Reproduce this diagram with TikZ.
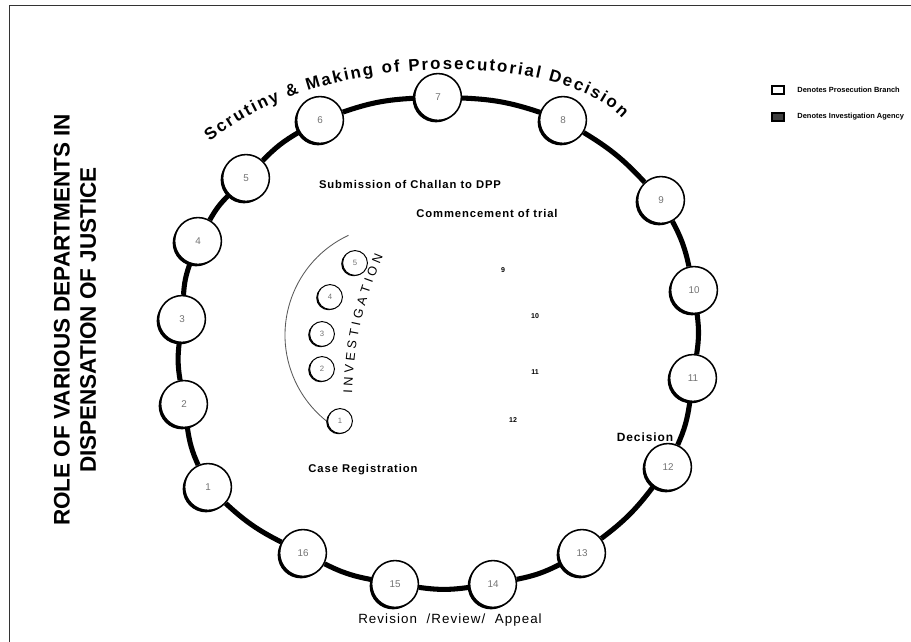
\documentclass[tikz,border=0pt]{standalone}
\usepackage{fontspec}
\setmainfont{Liberation Sans}
\newfontfamily\widesans[LetterSpace=8]{Liberation Sans}
\usepackage{tikz}
\usetikzlibrary{shapes,arrows,positioning,shadows,decorations.text}

\begin{document}
\begin{tikzpicture}[x=0.025cm, y=0.025cm]
  % Styles for the stages of the cycle
  \tikzstyle{ringstage} = [circle, draw=black, line width=1.1pt, fill=white, minimum size=1.17cm, inner sep=0pt, drop shadow={shadow xshift=-1.4pt, shadow yshift=-1.4pt, opacity=1, fill=black}, font=\fontsize{7}{8}\selectfont, text=black!55]
  \tikzstyle{invstage} = [circle, draw=black, line width=0.7pt, fill=white, minimum size=0.62cm, inner sep=0pt, drop shadow={shadow xshift=-1pt, shadow yshift=-0.6pt, opacity=1, fill=black}, font=\fontsize{5.5}{6}\selectfont, text=black!55]
  \tikzstyle{ringlink} = [line width=3.6pt, color=black]
  \tikzstyle{invarc} = [line width=0.6pt, color=black!65]
  \tikzstyle{stagetext} = [font=\widesans\bfseries\fontsize{8}{9.5}\selectfont]
  \tikzstyle{trialno} = [font=\bfseries\fontsize{5}{6}\selectfont]
  \tikzstyle{legendbox} = [rectangle, draw=black, line width=0.8pt, minimum width=0.3cm, minimum height=0.2cm, inner sep=0pt]
  \tikzstyle{legendtext} = [font=\bfseries\fontsize{5.3}{6}\selectfont, inner sep=1pt]

  \useasboundingbox (0,0) rectangle (911,642);

  % Frame
  \coordinate (frameBL) at (9,0);
  \coordinate (frameTL) at (9,637);
  \coordinate (frameTR) at (911,637);
  \draw[line width=0.6pt, black!80] (frameBL) -- (frameTL) -- (frameTR);

  % Title
  \node[rotate=90, align=center, font=\bfseries\fontsize{16}{18.5}\selectfont] (title) at (75,322) {ROLE OF VARIOUS DEPARTMENTS IN\\DISPENSATION OF JUSTICE};

  % Legend
  \node[legendbox, fill=white] (boxPros) at (778,552) {};
  \node[legendbox, fill=black!75] (boxInv) at (778,525) {};
  \node[legendtext, right=0.28cm of boxPros] (legPros) {Denotes Prosecution Branch};
  \node[legendtext, right=0.28cm of boxInv] (legInv) {Denotes Investigation Agency};

  % Outer ring of stages
  \node[ringstage] (s1) at (208,155) {1};
  \node[ringstage] (s2) at (184,238) {2};
  \node[ringstage] (s3) at (182,323) {3};
  \node[ringstage] (s4) at (198,401) {4};
  \node[ringstage] (s5) at (246,464) {5};
  \node[ringstage] (s6) at (320,522) {6};
  \node[ringstage] (s7) at (438,545) {7};
  \node[ringstage] (s8) at (563,522) {8};
  \node[ringstage] (s9) at (661,442) {9};
  \node[ringstage] (s10) at (694,352) {10};
  \node[ringstage] (s11) at (693,264) {11};
  \node[ringstage] (s12) at (668,175) {12};
  \node[ringstage] (s13) at (582,89) {13};
  \node[ringstage] (s14) at (493,58) {14};
  \node[ringstage] (s15) at (395,58) {15};
  \node[ringstage] (s16) at (303,89) {16};

  \draw[ringlink] (s1) to[bend left=8] (s2);
  \draw[ringlink] (s2) to[bend left=8] (s3);
  \draw[ringlink] (s3) to[bend left=8] (s4);
  \draw[ringlink] (s4) to[bend left=8] (s5);
  \draw[ringlink] (s5) to[bend left=8] (s6);
  \draw[ringlink] (s6) to[bend left=8] (s7);
  \draw[ringlink] (s7) to[bend left=8] (s8);
  \draw[ringlink] (s8) to[bend left=8] (s9);
  \draw[ringlink] (s9) to[bend left=8] (s10);
  \draw[ringlink] (s10) to[bend left=8] (s11);
  \draw[ringlink] (s11) to[bend left=8] (s12);
  \draw[ringlink] (s12) to[bend left=8] (s13);
  \draw[ringlink] (s13) to[bend left=8] (s14);
  \draw[ringlink] (s14) to[bend left=8] (s15);
  \draw[ringlink] (s15) to[bend left=8] (s16);
  \draw[ringlink] (s16) to[bend left=8] (s1);

  % Investigation stages
  \coordinate (invc) at (395,307);
  \draw[invarc] ([shift={(115:110)}]invc) arc[start angle=115, end angle=234, radius=110];
  \node[invstage] (i1) at (340,221) {1};
  \node[invstage] (i2) at (322,273) {2};
  \node[invstage] (i3) at (322,308) {3};
  \node[invstage] (i4) at (330,345) {4};
  \node[invstage] (i5) at (355,379) {5};
  \coordinate (invA) at (352,248);
  \coordinate (invB) at (383,386);
  \path[decorate, decoration={text along path, text align=fit to path, text={|\fontsize{9}{10}\selectfont|INVESTIGATION}}] (invA) to[bend left=10] (invB);

  % Trial stages
  \node[trialno] (n9) at (503,372) {9};
  \node[trialno] (n10) at (535,326) {10};
  \node[trialno] (n11) at (535,270) {11};
  \node[trialno] (n12) at (513,222) {12};

  % Stage labels
  \coordinate (scrA) at (210,500);
  \coordinate (scrB) at (622,524);
  \path[decorate, decoration={text along path, text align=fit to path, text={|\bfseries\fontsize{12}{14}\selectfont|Scrutiny {\&} Making of Prosecutorial Decision}}] (scrA) .. controls (321,593) and (556,592) .. (scrB);
  \node[stagetext] (submit) at (410,458) {Submission of Challan to DPP};
  \node[stagetext] (trial) at (487,429) {Commencement of trial};
  \node[stagetext] (caseReg) at (363,172) {Case Registration};
  \node[stagetext, font=\widesans\bfseries\fontsize{8.5}{9.5}\selectfont] (decision) at (645,205) {Decision};
  \node[font=\widesans\fontsize{9.5}{11}\selectfont] (revision) at (450,22) {Revision\ \ /Review/\ \ Appeal};

\end{tikzpicture}
\end{document}
